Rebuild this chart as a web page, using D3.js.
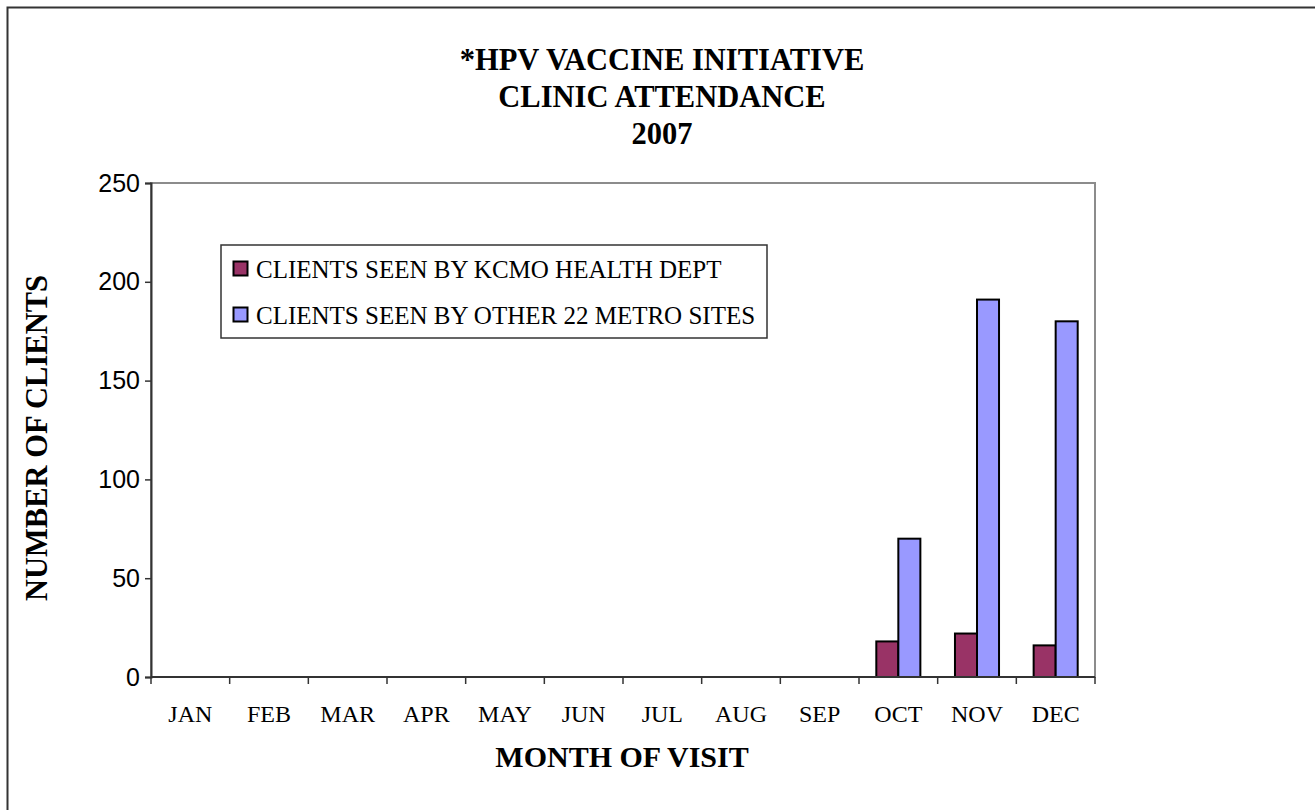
<!DOCTYPE html>
<html>
<head>
<meta charset="utf-8">
<script src="https://cdn.jsdelivr.net/npm/d3@7"></script>
<style>
  html, body { margin: 0; padding: 0; background: #fff; overflow: hidden; }
  svg { display: block; }
</style>
</head>
<body>
<svg id="chart" width="1315" height="810"></svg>
<script>
const months = ["JAN","FEB","MAR","APR","MAY","JUN","JUL","AUG","SEP","OCT","NOV","DEC"];
const kcmoValues = [0,0,0,0,0,0,0,0,0,18,22,16];
const metroValues = [0,0,0,0,0,0,0,0,0,70,191,180];
const seriesNames = ["CLIENTS SEEN BY KCMO HEALTH DEPT","CLIENTS SEEN BY OTHER 22 METRO SITES"];
const seriesColors = ["#993366","#9999FF"];
const yTicks = [0,50,100,150,200,250];
const titleLines = ["*HPV VACCINE INITIATIVE","CLINIC ATTENDANCE","2007"];
const xTitle = "MONTH OF VISIT";
const yTitle = "NUMBER OF CLIENTS";

const svg = d3.select("#chart");
const serif = "'Liberation Serif','Times New Roman',serif";
const sans = "'Liberation Sans',Arial,sans-serif";

// outer frame
svg.append("rect").attr("x",7.5).attr("y",7.5).attr("width",1400).attr("height",900)
  .attr("fill","#fff").attr("stroke","#333").attr("stroke-width",2);

const L = 151, R = 1095, T = 183, B = 677;
const x = d3.scaleBand().domain(months).range([L,R]).padding(0);
const x1 = d3.scaleBand().domain([0,1]).range([x.bandwidth()*0.22, x.bandwidth()*0.78]).padding(0);
const y = d3.scaleLinear().domain([0,250]).range([B,T]);

// plot area border
svg.append("rect").attr("x",L).attr("y",T).attr("width",R-L).attr("height",B-T)
  .attr("fill","none").attr("stroke","#8c8c8c").attr("stroke-width",2);

// title
svg.append("g").selectAll("text").data(titleLines).join("text")
  .attr("x",662).attr("y",(d,i)=>70+i*37)
  .attr("text-anchor","middle").attr("font-family",serif).attr("font-weight","bold")
  .attr("font-size",30.5).attr("fill","#000").text(d=>d);

// bars
const data = months.map((m,i)=>({m, vals:[kcmoValues[i], metroValues[i]]}));
const groups = svg.append("g").selectAll("g").data(data).join("g")
  .attr("transform",d=>`translate(${x(d.m)},0)`);
groups.selectAll("rect").data(d=>d.vals.map((v,k)=>({v,k}))).join("rect")
  .filter(d=>d.v>0)
  .attr("x",d=>x1(d.k)).attr("width",x1.bandwidth())
  .attr("y",d=>y(d.v)).attr("height",d=>y(0)-y(d.v))
  .attr("fill",d=>seriesColors[d.k]).attr("stroke","#000").attr("stroke-width",2);

// y axis
const yAxis = d3.axisLeft(y).tickValues(yTicks).tickSize(6).tickPadding(5);
const gy = svg.append("g").attr("transform",`translate(${L},0)`).call(yAxis);
gy.select(".domain").attr("stroke","#333").attr("stroke-width",2);
gy.selectAll(".tick line").attr("stroke","#333").attr("stroke-width",1.5);
gy.selectAll(".tick text").attr("font-family",sans).attr("font-size",25).attr("fill","#000");

// x axis
const gx = svg.append("g").attr("transform",`translate(0,${B})`);
gx.append("line").attr("x1",L).attr("x2",R).attr("y1",0).attr("y2",0)
  .attr("stroke","#333").attr("stroke-width",2);
const boundaries = months.map(m=>x(m)).concat([R]);
gx.selectAll("line.tk").data(boundaries).join("line").attr("class","tk")
  .attr("x1",d=>d).attr("x2",d=>d).attr("y1",0).attr("y2",7)
  .attr("stroke","#333").attr("stroke-width",1.5);
gx.selectAll("text").data(months).join("text")
  .attr("x",d=>x(d)+x.bandwidth()/2).attr("y",45)
  .attr("text-anchor","middle").attr("font-family",serif).attr("font-size",24)
  .attr("fill","#000").text(d=>d);

// axis titles
svg.append("text").attr("x",622).attr("y",767).attr("text-anchor","middle")
  .attr("font-family",serif).attr("font-weight","bold").attr("font-size",30).text(xTitle);
svg.append("text").attr("transform","translate(47,438) rotate(-90)").attr("text-anchor","middle")
  .attr("font-family",serif).attr("font-weight","bold").attr("font-size",30.5).text(yTitle);

// legend
const lg = svg.append("g");
lg.append("rect").attr("x",221).attr("y",245).attr("width",546).attr("height",93)
  .attr("fill","#fff").attr("stroke","#333").attr("stroke-width",1.5);
const items = lg.selectAll("g").data(seriesNames).join("g")
  .attr("transform",(d,i)=>`translate(0,${i*46})`);
items.append("rect").attr("x",233.5).attr("y",261.5).attr("width",14).attr("height",14)
  .attr("fill",(d,i)=>seriesColors[i]).attr("stroke","#000").attr("stroke-width",2);
items.append("text").attr("x",256).attr("y",278).attr("font-family",serif)
  .attr("font-size",25).attr("fill","#000").text(d=>d);
</script>
</body>
</html>
